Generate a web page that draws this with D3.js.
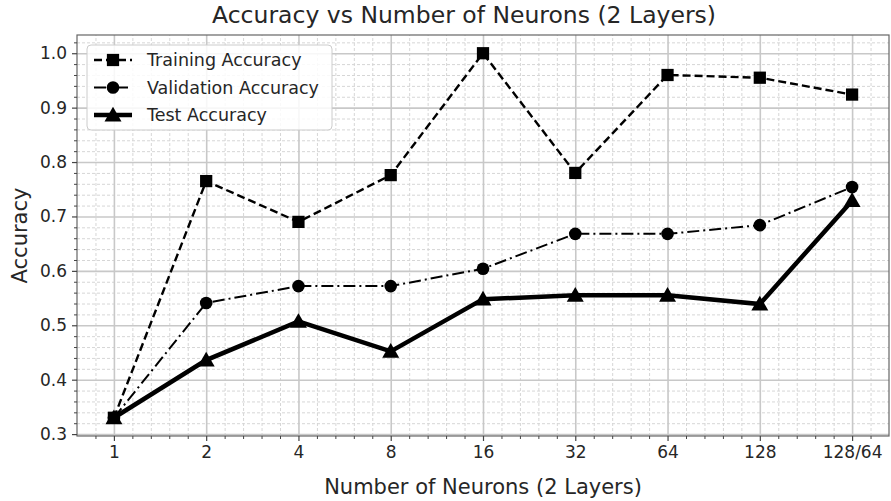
<!DOCTYPE html>
<html><head><meta charset="utf-8">
<script src="https://cdn.jsdelivr.net/npm/d3@7/dist/d3.min.js"></script>
<style>
body{margin:0;background:#fff}
text{font-family:"DejaVu Sans",sans-serif;fill:#262626}
</style>
</head><body><svg id="c" width="891" height="501"></svg>
<script>
const categories=["1","2","4","8","16","32","64","128","128/64"];
const trainingAcc=[0.33,0.765,0.69,0.776,1.0,0.78,0.96,0.955,0.924];
const validationAcc=[0.33,0.541,0.572,0.572,0.604,0.668,0.668,0.684,0.754];
const testAcc=[0.33,0.436,0.507,0.452,0.548,0.555,0.555,0.539,0.729];
const yTicks=[0.3,0.4,0.5,0.6,0.7,0.8,0.9,1.0];
const seriesNames=["Training Accuracy","Validation Accuracy","Test Accuracy"];

const svg=d3.select("#c");
const L=77,R=889,T=35,B=436;
const x=d3.scaleLinear().domain([-0.4,8.4]).range([L,R]);
const y=d3.scaleLinear().domain([0.2965,1.0335]).range([B,T]);

const minorX=d3.range(-2,43).map(i=>i*0.2).filter(v=>v>-0.4&&v<8.4&&Math.abs(v-Math.round(v))>1e-6);
const minorY=d3.range(15,52).map(i=>i*0.02).filter(v=>v>0.2965&&v<1.0335&&Math.abs(v*10-Math.round(v*10))>1e-6);

// minor grid
const g=svg.append("g");
g.append("g").attr("transform",`translate(0,${B})`)
 .call(d3.axisBottom(x).tickValues(minorX).tickSize(-(B-T)).tickFormat(""))
 .call(s=>{s.select(".domain").remove();s.selectAll("line").attr("stroke","#d6d6d6").attr("stroke-width",1).attr("stroke-dasharray","3,2");});
g.append("g").attr("transform",`translate(${L},0)`)
 .call(d3.axisLeft(y).tickValues(minorY).tickSize(-(R-L)).tickFormat(""))
 .call(s=>{s.select(".domain").remove();s.selectAll("line").attr("stroke","#d6d6d6").attr("stroke-width",1).attr("stroke-dasharray","3,2");});
// major grid
g.append("g").attr("transform",`translate(0,${B})`)
 .call(d3.axisBottom(x).tickValues(d3.range(9)).tickSize(-(B-T)).tickFormat(""))
 .call(s=>{s.select(".domain").remove();s.selectAll("line").attr("stroke","#c8c8c8").attr("stroke-width",1.6);});
g.append("g").attr("transform",`translate(${L},0)`)
 .call(d3.axisLeft(y).tickValues(yTicks).tickSize(-(R-L)).tickFormat(""))
 .call(s=>{s.select(".domain").remove();s.selectAll("line").attr("stroke","#c8c8c8").attr("stroke-width",1.6);});

// frame
svg.append("rect").attr("x",L).attr("y",T).attr("width",R-L).attr("height",B-T)
 .attr("fill","none").attr("stroke","#666").attr("stroke-width",1.2);

// axes ticks
const ax=svg.append("g").attr("transform",`translate(0,${B})`)
 .call(d3.axisBottom(x).tickValues(d3.range(9)).tickFormat(i=>categories[i]).tickSize(5).tickSizeOuter(0).tickPadding(5));
ax.select(".domain").remove();
ax.selectAll("line").attr("stroke","#444").attr("stroke-width",1.2);
ax.selectAll("text").style("font-size","17px").attr("fill","#333");
svg.append("g").attr("transform",`translate(0,${B})`)
 .call(d3.axisBottom(x).tickValues(minorX).tickFormat("").tickSize(3).tickSizeOuter(0))
 .call(s=>{s.select(".domain").remove();s.selectAll("line").attr("stroke","#444");});
const ay=svg.append("g").attr("transform",`translate(${L},0)`)
 .call(d3.axisLeft(y).tickValues(yTicks).tickFormat(d3.format(".1f")).tickSize(5).tickSizeOuter(0).tickPadding(5));
ay.select(".domain").remove();
ay.selectAll("line").attr("stroke","#444").attr("stroke-width",1.2);
ay.selectAll("text").style("font-size","17px").attr("fill","#333");
svg.append("g").attr("transform",`translate(${L},0)`)
 .call(d3.axisLeft(y).tickValues(minorY).tickFormat("").tickSize(3).tickSizeOuter(0))
 .call(s=>{s.select(".domain").remove();s.selectAll("line").attr("stroke","#444");});

// lines
const line=d3.line().x((d,i)=>x(i)).y(d=>y(d));
const styles=[
 {data:trainingAcc,w:2.4,dash:"8,4",marker:"square"},
 {data:validationAcc,w:2,dash:"12,4,2,4",marker:"circle"},
 {data:testAcc,w:4.5,dash:null,marker:"triangle"}
];
const sym={square:d3.symbolSquare,circle:d3.symbolCircle,triangle:d3.symbolTriangle};
const size={square:150,circle:125,triangle:125};
styles.forEach(s=>{
 svg.append("path").datum(s.data).attr("d",line).attr("fill","none").attr("stroke","#000")
  .attr("stroke-width",s.w).attr("stroke-dasharray",s.dash).attr("stroke-linejoin","miter");
 svg.selectAll(null).data(s.data).enter().append("path")
  .attr("d",d3.symbol().type(sym[s.marker]).size(size[s.marker]))
  .attr("transform",(d,i)=>`translate(${x(i)},${y(d)+(s.marker==="triangle"?1.5:0)})`)
  .attr("fill","#000");
});

// legend
const lg=svg.append("g");
lg.append("rect").attr("x",87).attr("y",45).attr("width",245).attr("height",85).attr("rx",4)
 .attr("fill","#fff").attr("fill-opacity",0.85).attr("stroke","#ccc").attr("stroke-width",1);
styles.forEach((s,k)=>{
 const yy=60+k*27.5;
 lg.append("line").attr("x1",94).attr("x2",132).attr("y1",yy).attr("y2",yy).attr("stroke","#000")
  .attr("stroke-width",s.w).attr("stroke-dasharray",s.dash);
 lg.append("path").attr("d",d3.symbol().type(sym[s.marker]).size(size[s.marker]))
  .attr("transform",`translate(113,${yy+(s.marker==="triangle"?1.5:0)})`).attr("fill","#000");
 lg.append("text").attr("x",147).attr("y",yy).attr("dy","0.36em").style("font-size","17.5px")
  .attr("fill","#333").text(seriesNames[k]);
});

// labels
svg.append("text").attr("x",464).attr("y",23).attr("text-anchor","middle").style("font-size","23.5px")
 .attr("fill","#262626").text("Accuracy vs Number of Neurons (2 Layers)");
svg.append("text").attr("x",483).attr("y",494).attr("text-anchor","middle").style("font-size","21px")
 .attr("fill","#333").text("Number of Neurons (2 Layers)");
svg.append("text").attr("transform",`translate(27,${(T+B)/2}) rotate(-90)`).attr("text-anchor","middle")
 .style("font-size","21px").attr("fill","#333").text("Accuracy");
</script></body></html>
